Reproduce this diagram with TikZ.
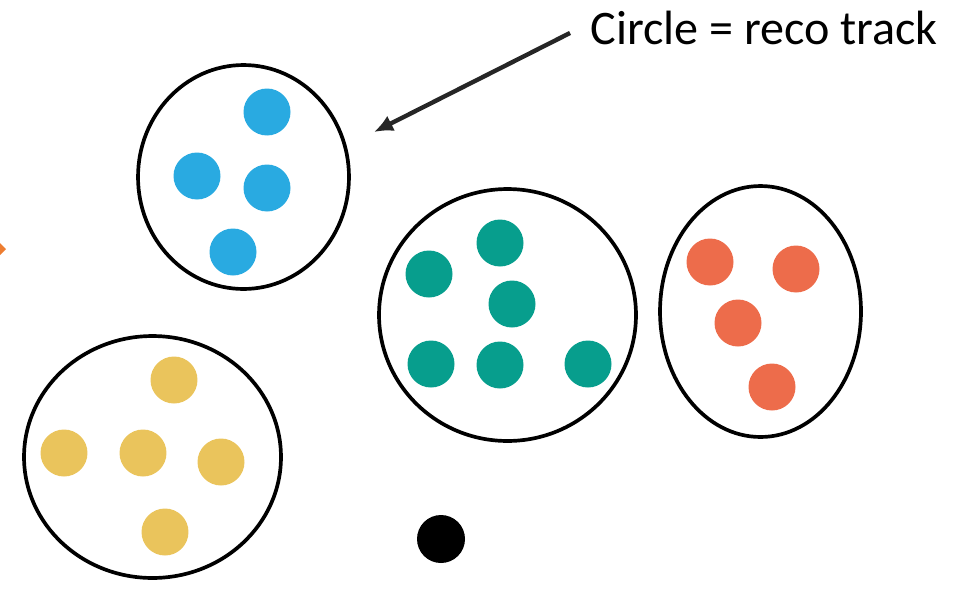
\documentclass[tikz,border=0pt]{standalone}
\usepackage{fontspec}
\setmainfont{Carlito}
\usetikzlibrary{shapes.geometric,arrows.meta}

\definecolor{hitblue}{RGB}{41,170,225}
\definecolor{hitgreen}{RGB}{7,158,141}
\definecolor{hitred}{RGB}{237,108,75}
\definecolor{hityellow}{RGB}{234,196,92}
\definecolor{arrorange}{RGB}{237,125,49}

\begin{document}
\begin{tikzpicture}[x=0.02cm,y=-0.02cm]
    % Node styles
    \tikzstyle{track} = [ellipse, draw, line width=2.1pt, inner sep=0pt]
    \tikzstyle{hit} = [circle, inner sep=0pt, minimum size=0.94cm]
    \tikzstyle{pointer} = [-{Latex[length=0.38cm,width=0.34cm]}, line width=2.5pt, black!85]

    \useasboundingbox (0,0) rectangle (955,592);

    % Tracks
    \node (blue) at (243.5,177) [track, minimum width=4.22cm, minimum height=4.48cm] {};
    \node (green) at (507.5,315) [track, minimum width=5.14cm, minimum height=5.04cm] {};
    \node (red) at (760.5,311.5) [track, minimum width=4.02cm, minimum height=5.02cm] {};
    \node (yellow) at (152.5,457) [track, minimum width=5.14cm, minimum height=4.84cm] {};

    % Hits
    \node (b1) at (267,112) [hit, fill=hitblue] {};
    \node (b2) at (197,176) [hit, fill=hitblue] {};
    \node (b3) at (267,188) [hit, fill=hitblue] {};
    \node (b4) at (233,252) [hit, fill=hitblue] {};

    \node (g1) at (500,243) [hit, fill=hitgreen] {};
    \node (g2) at (429,274) [hit, fill=hitgreen] {};
    \node (g3) at (512,304) [hit, fill=hitgreen] {};
    \node (g4) at (431,364) [hit, fill=hitgreen] {};
    \node (g5) at (500,365) [hit, fill=hitgreen] {};
    \node (g6) at (588,364) [hit, fill=hitgreen] {};

    \node (r1) at (710,262) [hit, fill=hitred] {};
    \node (r2) at (796,269) [hit, fill=hitred] {};
    \node (r3) at (738,323) [hit, fill=hitred] {};
    \node (r4) at (772,387) [hit, fill=hitred] {};

    \node (y1) at (174,380) [hit, fill=hityellow] {};
    \node (y2) at (64,453) [hit, fill=hityellow] {};
    \node (y3) at (143,453) [hit, fill=hityellow] {};
    \node (y4) at (221,462) [hit, fill=hityellow] {};
    \node (y5) at (165,532) [hit, fill=hityellow] {};

    % Unassigned hit
    \node (lone) at (441,539) [hit, fill=black, minimum size=0.96cm] {};

    % Label and arrow
    \node (label) at (590,28) [anchor=west, inner sep=0pt] {\fontsize{27.4}{32}\selectfont Circle = reco track};
    \coordinate (tip) at (374,132);
    \draw[pointer] ([shift={(-20,5)}]label.west) -- (tip);

    % Arrow head at the edge
    \fill[arrorange] (0,243) -- (6,249) -- (0,255) -- cycle;

\end{tikzpicture}
\end{document}
